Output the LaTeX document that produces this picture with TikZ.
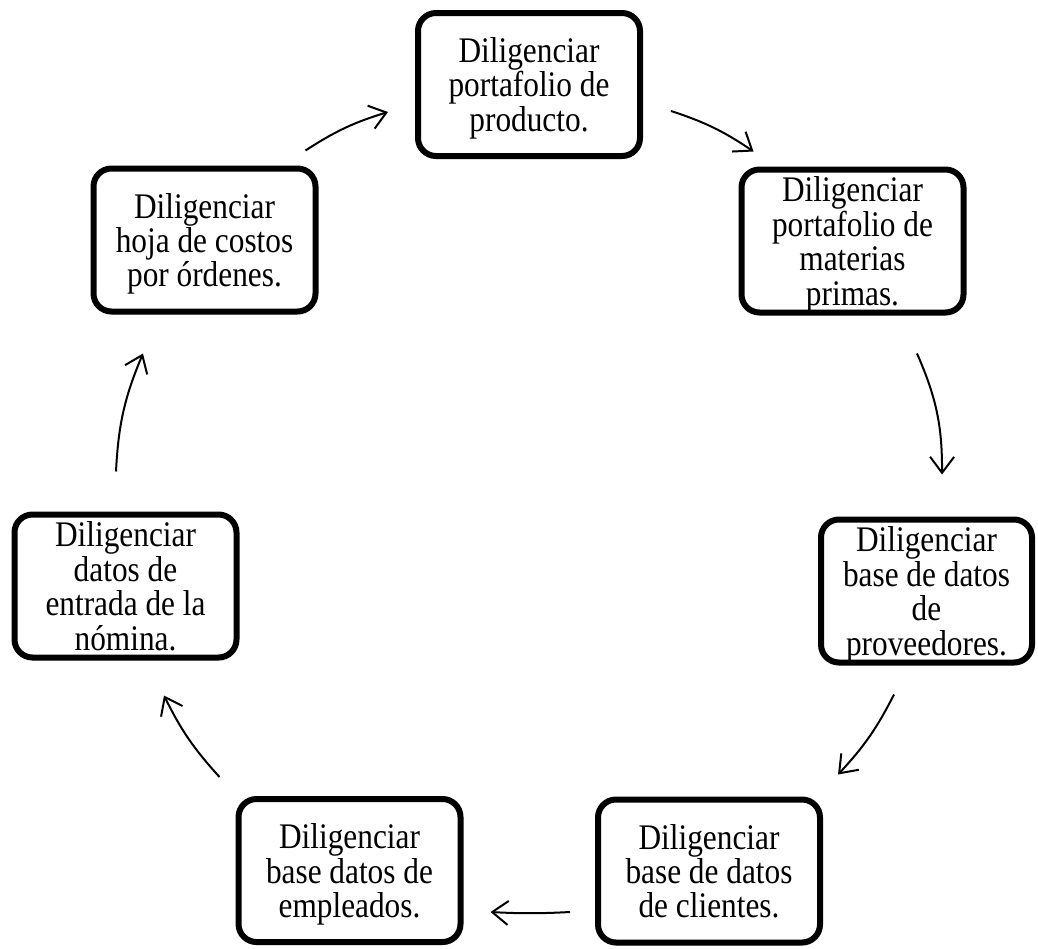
\documentclass[tikz,border=0pt]{standalone}
\usepackage{fontspec}
\setmainfont{Liberation Serif}[FakeStretch=0.87]
\usetikzlibrary{arrows.meta,shadows}
\begin{document}
\begin{tikzpicture}[
x=0.5pt, y=-0.5pt,
task/.style={rectangle, rounded corners=9pt, draw=black, fill=white, line width=3pt,
  minimum width=111pt, minimum height=71.5pt, inner sep=2pt, align=center,
  font=\fontsize{18pt}{17.2pt}\selectfont, text depth=0pt,
  drop shadow={opacity=0.18, shadow xshift=0.6pt, shadow yshift=-1.6pt}},
flow/.style={line width=1pt, -{Straight Barb[length=8pt, width=12pt]}},
]
\useasboundingbox (0,0) rectangle (1038,948);
\node[task] (A) at (529,84.5) {Diligenciar\\portafolio de\\producto.};
\node[task] (B) at (852.5,241) {Diligenciar\\portafolio de\\materias\\primas.};
\node[task, minimum width=105.5pt] (C) at (926.5,591) {Diligenciar\\base de datos\\de\\proveedores.};
\node[task] (D) at (709,871) {Diligenciar\\base de datos\\de clientes.};
\node[task] (E) at (349.5,870.5) {Diligenciar\\base datos de\\empleados.};
\node[task] (F) at (125.5,586) {Diligenciar\\datos de\\entrada de la\\nómina.};
\node[task] (G) at (204.5,240) {Diligenciar\\hoja de costos\\por órdenes.};
\draw[flow] ([shift={(-13,-15)}]G.north east) to[bend left=8] ([shift={(-27,27.5)}]A.west);
\draw[flow] ([shift={(28,26.5)}]A.east) to[bend left=8] ([shift={(15,-15)}]B.north west);
\draw[flow] ([shift={(64.5,38)}]B.south) to[bend left=12] ([shift={(15.5,-42)}]C.north);
\draw[flow] ([shift={(-32.5,29)}]C.south) to[bend left=8] ([shift={(15,-22)}]D.north east);
\draw[flow] ([shift={(-25,41)}]D.west) to[bend left=3] ([shift={(27,41.5)}]E.east);
\draw[flow] ([shift={(-16,-19)}]E.north west) to[bend left=8] ([shift={(38.5,35)}]F.south);
\draw[flow] ([shift={(-9.5,-40)}]F.north) to[bend left=10] ([shift={(-61.5,39)}]G.south);
\end{tikzpicture}
\end{document}
